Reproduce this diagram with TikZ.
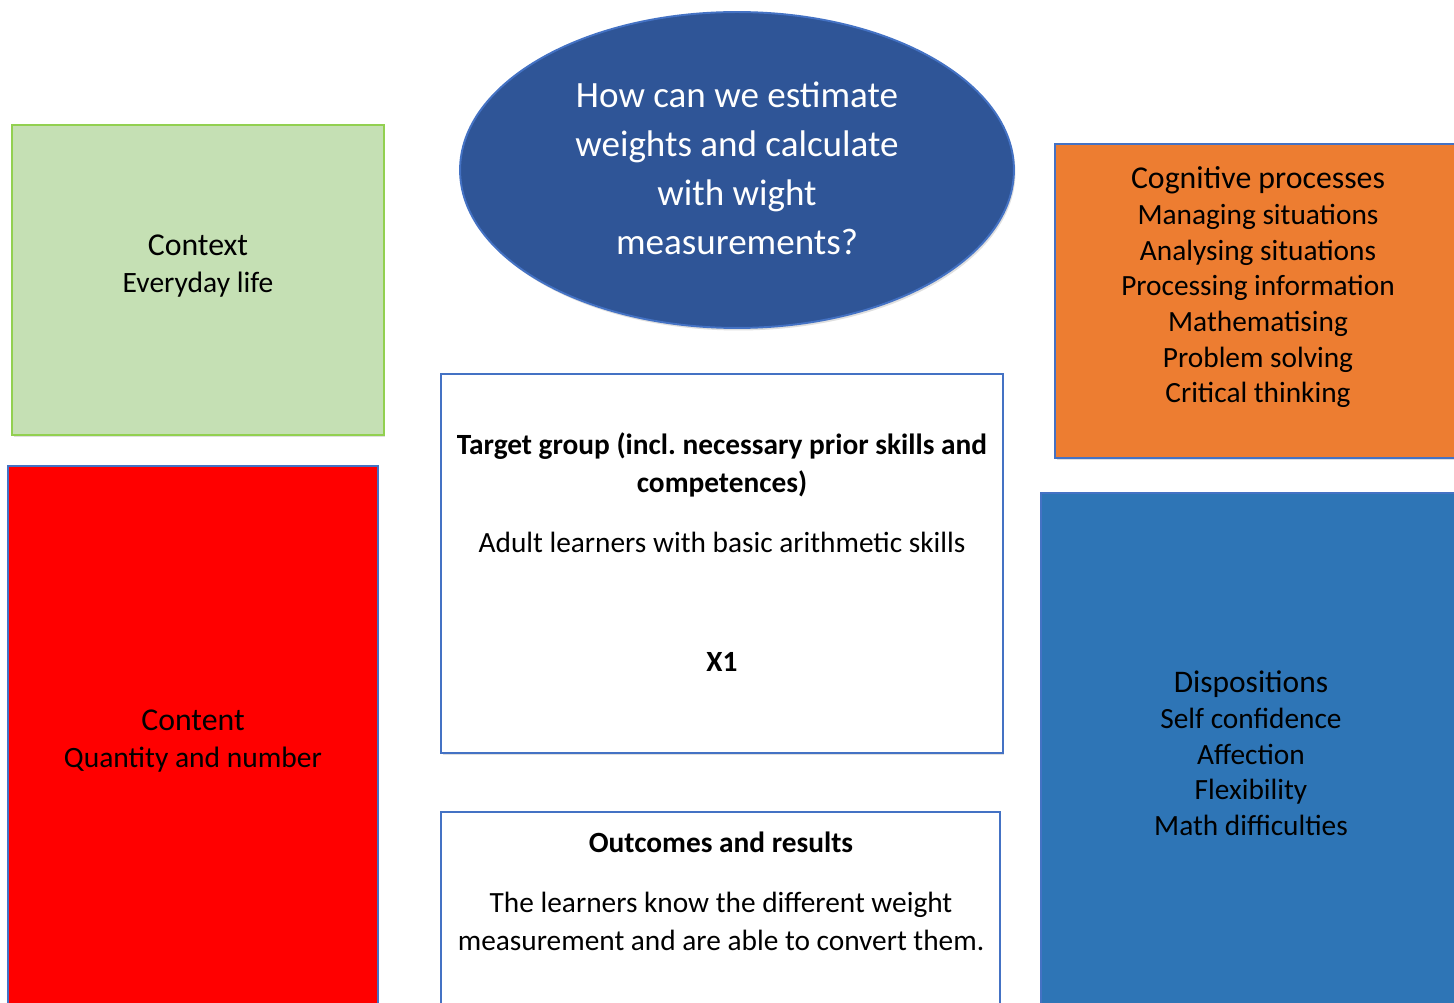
\documentclass[tikz,border=0pt]{standalone}
\usepackage{fontspec}
\setmainfont{Carlito}
\usetikzlibrary{shapes.geometric,shadows}
\definecolor{framegreen}{HTML}{92D050}
\definecolor{fillgreen}{HTML}{C5E0B4}
\definecolor{frameblue}{HTML}{4472C4}
\definecolor{questblue}{HTML}{2F5597}
\definecolor{dispblue}{HTML}{2E75B6}
\definecolor{cogorange}{HTML}{ED7D31}
\definecolor{contred}{HTML}{FF0000}
\begin{document}
\begin{tikzpicture}
[x=0.02cm, y=-0.02cm, font=\fontsize{16.7}{21.5}\selectfont]
\tikzstyle{panel}=[rectangle, draw=frameblue, line width=1.1pt, inner sep=0pt, drop shadow={shadow xshift=0.03cm, shadow yshift=-0.05cm, opacity=0.25}]
\tikzstyle{txt}=[align=center, inner sep=0pt]
\clip (0,0) rectangle (1454,1003);
\fill[white] (0,0) rectangle (1454,1003);

\node[panel, draw=framegreen, line width=1.4pt, fill=fillgreen, minimum width=7.44cm, minimum height=6.2cm]	(context)	at (198,280)	{};
\node[panel, fill=contred, minimum width=7.4cm, minimum height=10.88cm]	(content)	at (193,738)	{};
\node[ellipse, draw=frameblue, line width=1.1pt, fill=questblue, inner sep=0pt, minimum width=11.08cm, minimum height=6.32cm, drop shadow={shadow xshift=0.03cm, shadow yshift=-0.05cm, opacity=0.25}]	(question)	at (737,170)	{};
\node[panel, fill=white, minimum width=11.24cm, minimum height=7.58cm]	(target)	at (722,563.5)	{};
\node[panel, fill=white, minimum width=11.18cm, minimum height=3.96cm]	(outcomes)	at (720.5,911)	{};
\node[panel, fill=cogorange, minimum width=8.3cm, minimum height=6.28cm]	(cognitive)	at (1262.5,301)	{};
\node[panel, fill=dispblue, minimum width=8.58cm, minimum height=10.34cm]	(dispositions)	at (1255.5,751.5)	{};

\node[txt, font=\fontsize{16.8}{21}\selectfont]	(contexttext)	at (198,266)	{{\fontsize{18.1}{21}\selectfont Context}\\Everyday life};
\node[txt, font=\fontsize{16.8}{21}\selectfont]	(contenttext)	at (193,741)	{{\fontsize{18.1}{21}\selectfont Content}\\Quantity and number};
\node[txt, text=white, font=\fontsize{21.1}{27.8}\selectfont]	(questiontext)	at (737,168.5)	{How can we estimate\\weights and calculate\\with wight\\measurements?};
\node[txt, anchor=north]	(targettext)	at (722,432.5)	{\textbf{Target group (incl.\ necessary prior skills and}\\\textbf{competences)}\\[12.5pt]Adult learners with basic arithmetic skills\\[46.5pt]\textbf{X1}};
\node[txt, anchor=north, font=\fontsize{16.7}{22.1}\selectfont]	(outcomestext)	at (721,832)	{\textbf{Outcomes and results}\\[11.6pt]The learners know the different weight\\measurement and are able to convert them.};
\node[txt, font=\fontsize{16.7}{20.3}\selectfont]	(cognitivetext)	at (1258,287.5)	{{\fontsize{18.1}{20.3}\selectfont Cognitive processes}\\Managing situations\\Analysing situations\\Processing information\\Mathematising\\Problem solving\\Critical thinking};
\node[txt, font=\fontsize{16.7}{20.3}\selectfont]	(dispositionstext)	at (1251,753.5)	{{\fontsize{17.9}{20.3}\selectfont Dispositions}\\Self confidence\\Affection\\Flexibility\\Math difficulties};
\end{tikzpicture}
\end{document}
